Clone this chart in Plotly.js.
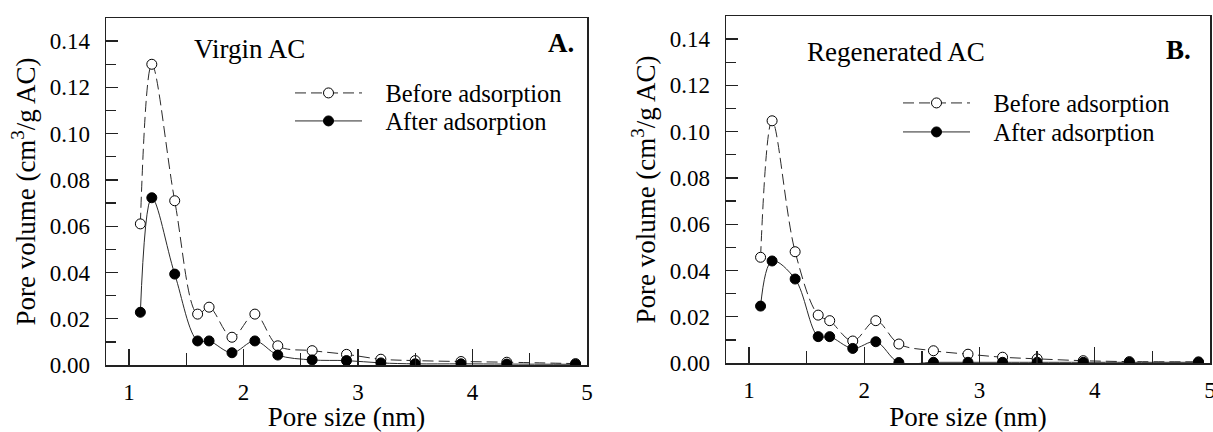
<!DOCTYPE html>
<html>
<head>
<meta charset="utf-8">
<script src="https://cdn.plot.ly/plotly-3.0.1.min.js"></script>
<style>html,body{margin:0;padding:0;background:#fff;}#chart{width:1213px;height:432px;}</style>
</head>
<body>
<div id="chart"></div>
<script>
// Pore size (nm)
const poreSize = [1.1, 1.2, 1.4, 1.6, 1.7, 1.9, 2.1, 2.3, 2.6, 2.9, 3.2, 3.5, 3.9, 4.3, 4.9];
// Panel A: Virgin AC
const virginBefore = [0.061, 0.130, 0.071, 0.022, 0.025, 0.012, 0.022, 0.0083, 0.0062, 0.0046, 0.0025, 0.0019, 0.0015, 0.0012, 0.0006];
const virginAfter  = [0.0228, 0.0723, 0.0393, 0.0104, 0.0104, 0.0053, 0.0104, 0.0043, 0.0022, 0.0019, 0.0009, 0.0005, 0.0005, 0.0004, 0.0003];
// Panel B: Regenerated AC
const regenBefore = [0.0457, 0.1047, 0.0481, 0.0207, 0.0183, 0.0095, 0.0183, 0.0082, 0.0053, 0.0038, 0.0025, 0.0018, 0.0010, 0.0006, 0.0005];
const regenAfter  = [0.0246, 0.0441, 0.0363, 0.0114, 0.0114, 0.0063, 0.0092, 0.0002, 0.0003, 0.0003, 0.0003, 0.0003, 0.0003, 0.0003, 0.0003];

const seriesNames = ['Before adsorption', 'After adsorption'];
const panelTitles = ['Virgin AC', 'Regenerated AC'];
const panelLetters = ['A.', 'B.'];
const xTitle = 'Pore size (nm)';
const yTitle = 'Pore volume (cm<sup>3</sup>/g AC)';

const FONT = 'Liberation Serif, Times New Roman, serif';
const lineCol = '#2a2a2a';
const PAD = '\u00A0\u00A0\u00A0';

function beforeTrace(y, xa, ya, leg) {
  return {
    x: poreSize, y: y, xaxis: xa, yaxis: ya, legend: leg,
    name: PAD + seriesNames[0], type: 'scatter', mode: 'lines+markers',
    line: {color: lineCol, width: 1, dash: '11px,5px', shape: 'spline', smoothing: 1},
    marker: {symbol: 'circle', size: 10, color: '#fff', line: {color: '#000', width: 1}}
  };
}
function afterTrace(y, xa, ya, leg) {
  return {
    x: poreSize, y: y, xaxis: xa, yaxis: ya, legend: leg,
    name: PAD + seriesNames[1], type: 'scatter', mode: 'lines+markers',
    line: {color: lineCol, width: 1, shape: 'spline', smoothing: 1},
    marker: {symbol: 'circle', size: 10, color: '#000', line: {color: '#000', width: 1}}
  };
}

const data = [
  beforeTrace(virginBefore, 'x', 'y', 'legend'),
  afterTrace(virginAfter, 'x', 'y', 'legend2'),
  beforeTrace(regenBefore, 'x2', 'y2', 'legend3'),
  afterTrace(regenAfter, 'x2', 'y2', 'legend4')
];

function xAxis(domain, anchor) {
  return {
    domain: domain, anchor: anchor, range: [0.8, 5], dtick: 1, tick0: 0,
    ticks: 'inside', ticklen: 16, tickwidth: 1.3, tickcolor: '#222',
    minor: {dtick: 0.5, ticks: 'inside', ticklen: 12, tickwidth: 1.3, tickcolor: '#222'},
    showline: true, linewidth: 1.5, linecolor: '#222', mirror: true,
    showgrid: false, zeroline: false, fixedrange: true,
    ticklabeloverflow: 'allow',
    tickfont: {family: FONT, size: 23, color: '#000'}, ticklabelstandoff: 6,
    title: {text: xTitle, font: {family: FONT, size: 27, color: '#000'}, standoff: 12}
  };
}
function yAxis(domain, anchor) {
  return {
    domain: domain, anchor: anchor, range: [0, 0.15], dtick: 0.02, tick0: 0,
    tickformat: '.2f',
    ticks: 'inside', ticklen: 12, tickwidth: 1.3, tickcolor: '#222',
    minor: {dtick: 0.01, ticks: 'inside', ticklen: 10, tickwidth: 1.3, tickcolor: '#222'},
    showline: true, linewidth: 1.5, linecolor: '#222', mirror: true,
    showgrid: false, zeroline: false, fixedrange: true,
    tickfont: {family: FONT, size: 23, color: '#000'}, ticklabelstandoff: 10,
    title: {text: yTitle, font: {family: FONT, size: 27, color: '#000'}, standoff: 6}
  };
}

function legendAt(px, py) {
  return {
    bgcolor: 'rgba(0,0,0,0)', borderwidth: 0,
    font: {family: FONT, size: 24.5, color: '#000'},
    itemwidth: 67, tracegroupgap: 0,
    xref: 'paper', yref: 'paper', xanchor: 'left', yanchor: 'middle',
    x: px / 1213, y: 1 - py / 432
  };
}

const layout = {
  width: 1213, height: 432,
  margin: {l: 0, r: 0, t: 0, b: 0},
  paper_bgcolor: '#fff', plot_bgcolor: '#fff',
  showlegend: true,
  xaxis: xAxis([106/1213, 587/1213], 'y'),
  yaxis: yAxis([67/432, 414/432], 'x'),
  xaxis2: xAxis([726/1213, 1210/1213], 'y2'),
  yaxis2: yAxis([69/432, 416/432], 'x2'),
  legend: legendAt(290, 93),
  legend2: legendAt(290, 121),
  legend3: legendAt(898, 103),
  legend4: legendAt(898, 132),
  annotations: [
    {text: panelTitles[0], xref: 'paper', yref: 'paper', x: 192/1213, y: 1 - 49/432,
     xanchor: 'left', yanchor: 'middle', showarrow: false,
     font: {family: FONT, size: 27, color: '#000'}},
    {text: '<b>' + panelLetters[0] + '</b>', xref: 'paper', yref: 'paper', x: 576/1213, y: 1 - 43/432,
     xanchor: 'right', yanchor: 'middle', showarrow: false,
     font: {family: FONT, size: 27, color: '#000'}},
    {text: panelTitles[1], xref: 'paper', yref: 'paper', x: 805/1213, y: 1 - 52/432,
     xanchor: 'left', yanchor: 'middle', showarrow: false,
     font: {family: FONT, size: 27, color: '#000'}},
    {text: '<b>' + panelLetters[1] + '</b>', xref: 'paper', yref: 'paper', x: 1193/1213, y: 1 - 50/432,
     xanchor: 'right', yanchor: 'middle', showarrow: false,
     font: {family: FONT, size: 27, color: '#000'}}
  ]
};

Plotly.newPlot('chart', data, layout, {staticPlot: true, displayModeBar: false});
</script>
</body>
</html>
